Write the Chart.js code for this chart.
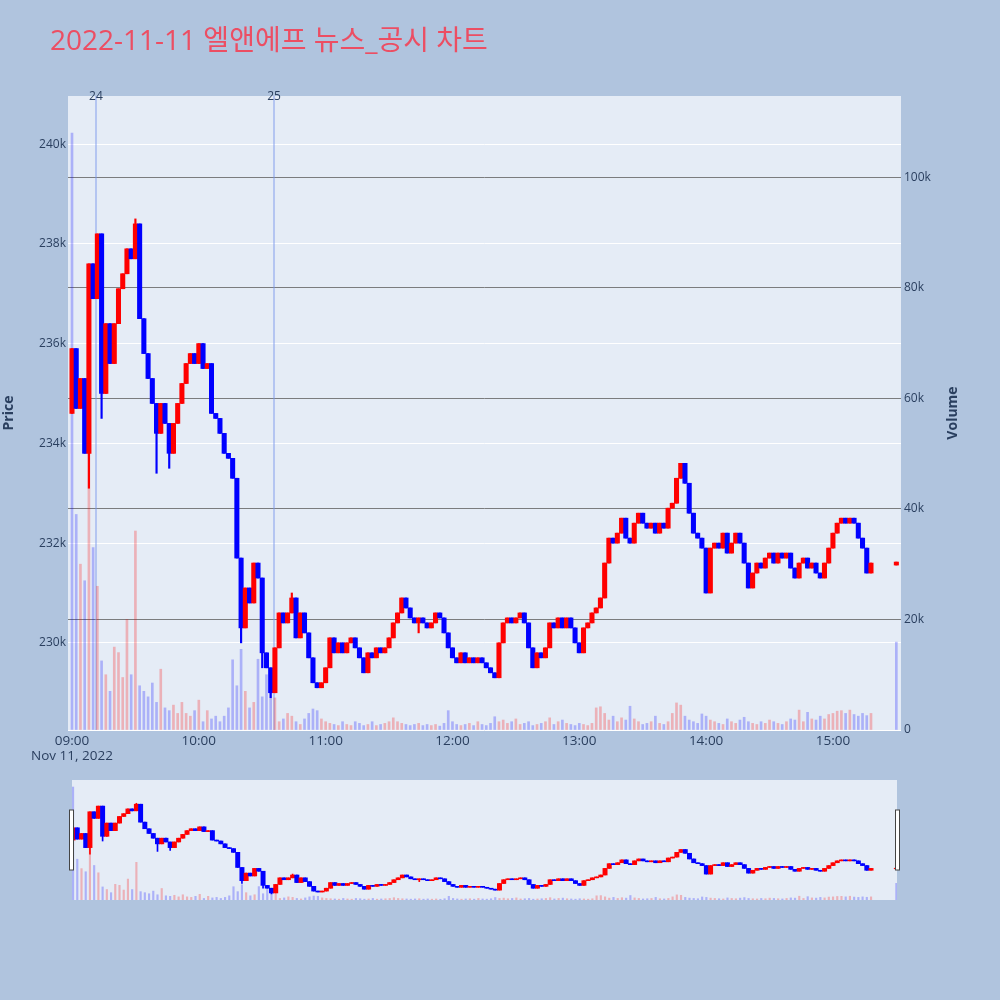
<!DOCTYPE html>
<html><head><meta charset="utf-8">
<script src="https://cdn.jsdelivr.net/npm/chart.js@4.4.1/dist/chart.umd.min.js"></script>
<style>
html,body{margin:0;padding:0;background:#B0C4DE;width:1000px;height:1000px;overflow:hidden;}
#main{position:absolute;left:0;top:0;width:1000px;height:770px;}
#slider{position:absolute;left:0;top:770px;width:1000px;height:230px;}
</style></head><body>
<div id="main"><canvas id="c1"></canvas></div>
<div id="slider"><canvas id="c2"></canvas></div>
<script>
// ---------------- data (prices & volumes in thousands) ----------------
const chartTitle = '2022-11-11 엘앤에프 뉴스_공시 차트';
const stepMinutes = 2;            // one candle every 2 minutes from 09:00
const openPrice = 234.6;          // first open
const closes = [
 235.9,234.7,235.3,233.8,237.6,236.9,238.2,235.0,236.4,235.6,
 236.4,237.1,237.4,237.9,237.7,238.4,236.5,235.8,235.3,234.8,
 234.2,234.8,234.4,233.8,234.4,234.8,235.2,235.6,235.8,235.6,
 236.0,235.5,235.6,234.6,234.5,234.2,233.8,233.7,233.3,231.7,
 230.3,231.1,230.8,231.6,231.3,229.8,229.5,229.0,229.9,230.6,
 230.4,230.6,230.9,230.1,230.6,230.2,229.7,229.2,229.1,229.2,
 229.5,230.1,229.8,230.0,229.8,230.0,230.1,229.9,229.7,229.4,
 229.8,229.7,229.9,229.8,229.9,230.1,230.4,230.6,230.9,230.7,
 230.5,230.4,230.5,230.4,230.3,230.4,230.6,230.5,230.2,229.9,
 229.7,229.6,229.8,229.6,229.7,229.6,229.7,229.6,229.5,229.4,
 229.3,230.0,230.4,230.5,230.4,230.5,230.6,230.4,229.9,229.5,
 229.8,229.7,229.9,230.4,230.3,230.5,230.3,230.5,230.3,230.0,
 229.8,230.3,230.4,230.6,230.7,230.9,231.6,232.1,232.0,232.2,
 232.5,232.1,232.0,232.4,232.6,232.4,232.3,232.4,232.2,232.4,
 232.3,232.7,232.8,233.3,233.6,233.2,232.6,232.2,232.1,231.9,
 231.0,231.9,232.0,231.9,232.2,231.8,232.0,232.2,232.0,231.6,
 231.1,231.4,231.6,231.5,231.7,231.8,231.6,231.8,231.7,231.8,
 231.5,231.3,231.6,231.7,231.5,231.6,231.4,231.3,231.6,231.9,
 232.2,232.4,232.5,232.4,232.5,232.4,232.1,231.9,231.4,231.6
];
const volumes = [
 108,39,30,27,52,33,26,12.5,10,7,
 15,14,9.5,20,10,36,8,7,6,8.5,
 5,11,4,3.5,4.5,3,5,3,2.5,3.5,
 5.4,1.5,3.5,2,2.5,1.5,2.5,4,12.7,8,
 14.6,7,4,5,12.8,6,10,7,5.8,1.5,
 2,3,2.5,1.5,1,2,3,3.8,3.5,2,
 1.5,1.2,1,0.8,1.5,1,0.8,1.5,1.2,0.8,
 1,1.5,0.8,1,1.2,1.5,2.2,1.5,1.2,1,
 0.8,1,1.2,0.8,1,0.8,1,0.7,1.2,3.5,
 1.5,1,0.8,1,1.2,0.8,1.5,1,0.8,1.2,
 2.4,1.5,1.8,1.2,1.5,2,1,1.2,1.5,0.8,
 1,1.2,1.5,2.2,1,1.5,1.8,1.2,1,0.8,
 1.2,1,0.8,1.2,4,4.2,3,1.8,2.5,1.5,
 2.2,1.8,4.3,2,1.5,1,1.2,1.5,2.5,1.2,
 1,1.5,3,4.9,4.5,2.5,1.8,1.5,1.2,2.9,
 2.5,1.8,1.5,1.2,1,2,1.5,1.2,1.8,2.3,
 1.5,1.2,1,1.5,1.2,1.8,1.5,1.2,1,1.5,
 2,1.8,3.6,1.5,3.2,2,1.8,2.5,2,2.8,
 3,3.4,3.5,3,3.6,2.8,2.5,3,2.6,3
];
// closing auction print at 15:30
const finalMinute = 390, finalOpen = 231.56, finalClose = 231.62, finalVolume = 15.9;
// wick extremes (candle index -> price)
const wickIdx = [4, 7, 15, 20, 23, 40, 45, 47, 52, 82];
const wickVal = [233.1, 234.5, 238.5, 233.4, 233.5, 230.0, 229.5, 228.9, 231.0, 230.2];
// news markers
const newsLabels = ['24', '25'];
const newsMinutes = [11.3, 95.6];
// axes
const priceTicks = [230, 232, 234, 236, 238, 240];
const volumeTicks = [0, 20, 40, 60, 80, 100];
const timeTicks = [0, 60, 120, 180, 240, 300, 360];
const timeLabels = ['09:00', '10:00', '11:00', '12:00', '13:00', '14:00', '15:00'];
const dateLabel = 'Nov 11, 2022';

// ---------------- build candles ----------------
const minutes = closes.map((_, i) => i * stepMinutes).concat([finalMinute]);
const allClose = closes.concat([finalClose]);
const allVol = volumes.concat([finalVolume]);
const opens = allClose.map((c, i) => i === 0 ? openPrice : (i === allClose.length - 1 ? finalOpen : allClose[i - 1]));
const highs = allClose.map((c, i) => Math.max(c, opens[i]));
const lows = allClose.map((c, i) => Math.min(c, opens[i]));
wickIdx.forEach((k, j) => { const v = wickVal[j]; if (v < lows[k]) lows[k] = v; if (v > highs[k]) highs[k] = v; });
const up = allClose.map((c, i) => c >= opens[i]);
const candleColors = up.map(u => u ? '#FF0000' : '#0000FF');
const volColors = up.map((u, i) => (u && i !== 0 && i !== up.length - 1) ? 'rgba(255,0,0,0.25)' : 'rgba(0,0,255,0.25)');

function datasets(bodyW, wickW, volW) {
  return [
    { type: 'bar', label: 'Body', yAxisID: 'y', order: 1, grouped: false, barThickness: bodyW,
      data: minutes.map((m, i) => ({ x: m, y: [Math.min(opens[i], allClose[i]), Math.max(opens[i], allClose[i])] })),
      backgroundColor: candleColors, borderWidth: 0 },
    { type: 'bar', label: 'Wick', yAxisID: 'y', order: 2, grouped: false, barThickness: wickW,
      data: minutes.map((m, i) => ({ x: m, y: [lows[i], highs[i]] })),
      backgroundColor: candleColors, borderWidth: 0 },
    { type: 'bar', label: 'Volume', yAxisID: 'y2', order: 3, grouped: false, barThickness: volW,
      data: minutes.map((m, i) => ({ x: m, y: allVol[i] })),
      backgroundColor: volColors, borderWidth: 0 }
  ];
}

Chart.defaults.font.family = "'Open Sans', 'Noto Sans CJK KR', sans-serif";
Chart.defaults.color = '#2a3f5f';
const PRICE_MIN = 228.253, PRICE_MAX = 240.964, VOL_MAX = 114.7;

const plotBg = {
  id: 'plotBg',
  beforeDraw(chart) {
    const a = chart.chartArea, ctx = chart.ctx;
    ctx.save(); ctx.fillStyle = '#E5ECF6';
    ctx.fillRect(a.left, a.top, a.right - a.left, a.bottom - a.top);
    ctx.restore();
  }
};

const markers = {
  id: 'markers',
  beforeDatasetsDraw(chart) {
    const ctx = chart.ctx, a = chart.chartArea, xs = chart.scales.x;
    ctx.save();
    ctx.strokeStyle = 'rgba(120,150,235,0.45)'; ctx.lineWidth = 2;
    newsMinutes.forEach(m => {
      const x = Math.round(xs.getPixelForValue(m));
      ctx.beginPath(); ctx.moveTo(x, a.top); ctx.lineTo(x, a.bottom); ctx.stroke();
    });
    ctx.restore();
  },
  afterDraw(chart) {
    const ctx = chart.ctx, a = chart.chartArea, xs = chart.scales.x;
    ctx.save();
    ctx.fillStyle = '#EC4E63';
    ctx.font = "28px 'Open Sans', 'Noto Sans CJK KR', sans-serif";
    ctx.textAlign = 'left'; ctx.textBaseline = 'alphabetic';
    ctx.fillText(chartTitle, 50, 50);
    ctx.fillStyle = '#2a3f5f';
    ctx.font = "12px 'Open Sans', sans-serif";
    ctx.textAlign = 'center'; ctx.textBaseline = 'middle';
    newsMinutes.forEach((m, i) => ctx.fillText(newsLabels[i], xs.getPixelForValue(m), a.top + 1));
    ctx.font = "bold 14px 'Open Sans', sans-serif";
    const cy = (a.top + a.bottom) / 2;
    ctx.translate(9.5, cy); ctx.rotate(-Math.PI / 2); ctx.fillText('Price', 0, 0);
    ctx.setTransform(1, 0, 0, 1, 0, 0);
    ctx.translate(953, cy); ctx.rotate(-Math.PI / 2); ctx.fillText('Volume', 0, 0);
    ctx.restore();
  }
};

new Chart(document.getElementById('c1'), {
  data: { datasets: datasets(4.4, 1.5, 2) },
  options: {
    responsive: true, maintainAspectRatio: false, animation: false, devicePixelRatio: 1,
    layout: { padding: { left: 0, top: 96, right: 0, bottom: 0 } },
    plugins: { legend: { display: false }, tooltip: { enabled: false }, title: { display: false } },
    scales: {
      x: { type: 'linear', min: -1.89, max: 392.2, offset: false,
        grid: { display: false, drawTicks: false }, border: { display: false },
        afterBuildTicks: s => { s.ticks = timeTicks.map(v => ({ value: v })); },
        afterFit: s => { s.height = 40; },
        ticks: { autoSkip: false, maxRotation: 0, padding: 4, font: { size: 13.5, lineHeight: 1.1 },
          callback: (v) => { const k = timeTicks.indexOf(v); return k === 0 ? [timeLabels[0], dateLabel] : timeLabels[k]; } } },
      y: { position: 'left', min: PRICE_MIN, max: PRICE_MAX,
        grid: { color: '#ffffff', lineWidth: 1, drawTicks: false }, border: { display: false },
        afterBuildTicks: s => { s.ticks = priceTicks.map(v => ({ value: v })); },
        afterFit: s => { s.width = 68; },
        ticks: { padding: 2, font: { size: 12 }, callback: v => v + 'k' } },
      y2: { position: 'right', min: 0, max: VOL_MAX,
        grid: { color: c => c.tick && c.tick.value === 0 ? '#ffffff' : 'rgba(105,105,105,0.85)', lineWidth: 1, drawTicks: false },
        border: { display: false },
        afterBuildTicks: s => { s.ticks = volumeTicks.map(v => ({ value: v })); },
        afterFit: s => { s.width = 99; },
        ticks: { padding: 3, font: { size: 12 }, callback: v => v === 0 ? '0' : v + 'k' } }
    }
  },
  plugins: [plotBg, markers]
});

const handles = {
  id: 'handles',
  afterDraw(chart) {
    const ctx = chart.ctx, a = chart.chartArea;
    ctx.save();
    ctx.fillStyle = '#ffffff'; ctx.strokeStyle = '#444444'; ctx.lineWidth = 1;
    [a.left - 2.5, a.right - 1.5].forEach(x => {
      ctx.fillRect(x, a.top + 30, 4, 60);
      ctx.strokeRect(x, a.top + 30, 4, 60);
    });
    ctx.restore();
  }
};

new Chart(document.getElementById('c2'), {
  data: { datasets: datasets(4.3, 1, 1.5) },
  options: {
    responsive: true, maintainAspectRatio: false, animation: false, devicePixelRatio: 1,
    layout: { padding: { left: 72, right: 103, top: 10, bottom: 100 } },
    plugins: { legend: { display: false }, tooltip: { enabled: false }, title: { display: false } },
    scales: {
      x: { type: 'linear', display: false, min: -0.5, max: 390.3, offset: false },
      y: { display: false, min: PRICE_MIN, max: PRICE_MAX },
      y2: { display: false, min: 0, max: VOL_MAX }
    }
  },
  plugins: [plotBg, handles]
});
</script>
</body></html>
